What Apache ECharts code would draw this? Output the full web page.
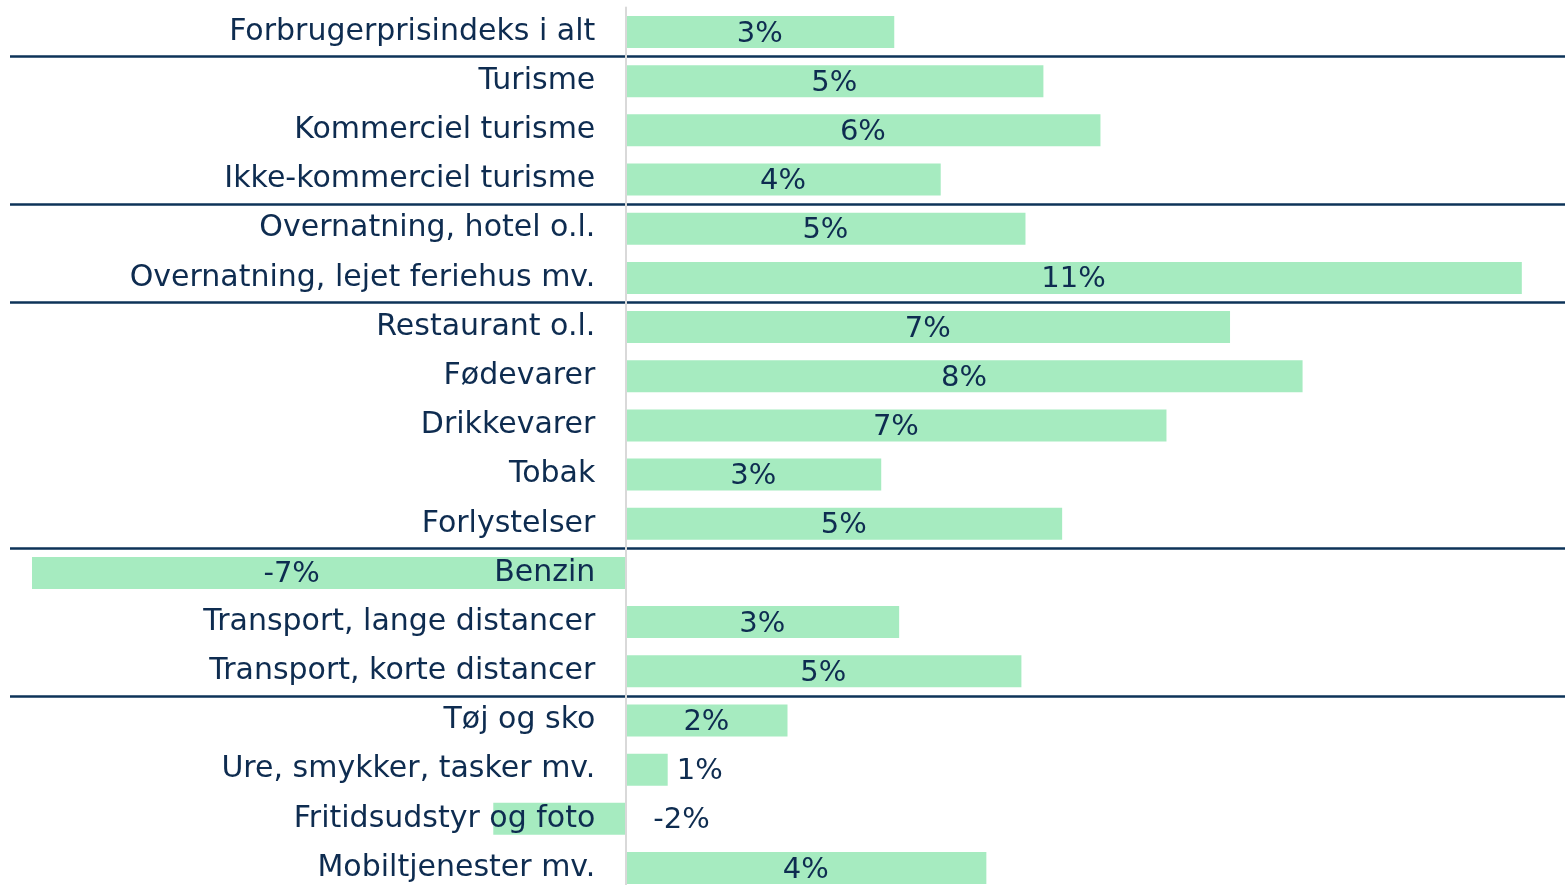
<!DOCTYPE html>
<html>
<head>
<meta charset="utf-8">
<script src="https://cdn.jsdelivr.net/npm/echarts@6/dist/echarts.min.js"></script>
<style>
html, body { margin: 0; padding: 0; background: #fff; }
#main { width: 1565px; height: 885px; }
</style>
</head>
<body>
<div id="main"></div>
<script>
// categories top to bottom
var categories = [
  'Forbrugerprisindeks i alt',
  'Turisme',
  'Kommerciel turisme',
  'Ikke-kommerciel turisme',
  'Overnatning, hotel o.l.',
  'Overnatning, lejet feriehus mv.',
  'Restaurant o.l.',
  'Fødevarer',
  'Drikkevarer',
  'Tobak',
  'Forlystelser',
  'Benzin',
  'Transport, lange distancer',
  'Transport, korte distancer',
  'Tøj og sko',
  'Ure, smykker, tasker mv.',
  'Fritidsudstyr og foto',
  'Mobiltjenester mv.'
];

// prisudvikling i pct.
var values = [3.3, 5.13, 5.83, 3.87, 4.91, 11.0, 7.42, 8.31, 6.64, 3.14, 5.36, -7.28, 3.36, 4.86, 1.99, 0.52, -1.62, 4.43];

// skillelinjer foer disse raekker
var groupStarts = [1, 4, 6, 11, 14];

var navy = '#0e2c50';
var font = '"DejaVu Sans", sans-serif';

var xMin = -7.55, xMax = 11.53;
var gridLeft = 10, gridRight = 0, chartWidth = 1565;
// flyt kategoriaksen over paa nul
var zeroOffset = -(chartWidth - gridLeft - gridRight) * (0 - xMin) / (xMax - xMin);

var barData = values.map(function (v, i) {
  var item = { value: v };
  if (categories[i] === 'Ure, smykker, tasker mv.') {
    item.label = { position: 'right', distance: 9 };
  }
  if (categories[i] === 'Fritidsudstyr og foto') {
    item.label = { position: 'right', distance: 28 };
  }
  if (categories[i] === 'Benzin') {
    item.label = { offset: [-37, 2] };
  }
  return item;
});

var chart = echarts.init(document.getElementById('main'));
chart.setOption({
  animation: false,
  grid: { left: gridLeft, right: gridRight, top: 7.4, bottom: -7.6, outerBoundsMode: 'none', containLabel: false },
  xAxis: {
    type: 'value',
    min: xMin,
    max: xMax,
    show: false
  },
  yAxis: {
    type: 'category',
    data: categories,
    inverse: true,
    z: 5,
    offset: zeroOffset,
    axisLine: { onZero: false, lineStyle: { color: '#d9d9d9', width: 2 } },
    axisTick: { show: false },
    axisLabel: {
      color: navy,
      fontFamily: font,
      fontSize: 30,
      margin: 30
    },
    splitLine: {
      show: true,
      interval: function (index) {
        return groupStarts.indexOf(index) >= 0;
      },
      lineStyle: { color: '#0d3358', width: 2.5 }
    }
  },
  series: [
    {
      type: 'bar',
      data: barData,
      barWidth: 32,
      itemStyle: { color: '#a6ebc0' },
      label: {
        show: true,
        position: 'inside',
        offset: [0, 2],
        color: navy,
        fontFamily: font,
        fontSize: 29,
        formatter: function (p) {
          return Math.round(p.value) + '%';
        }
      }
    }
  ]
});
</script>
</body>
</html>
